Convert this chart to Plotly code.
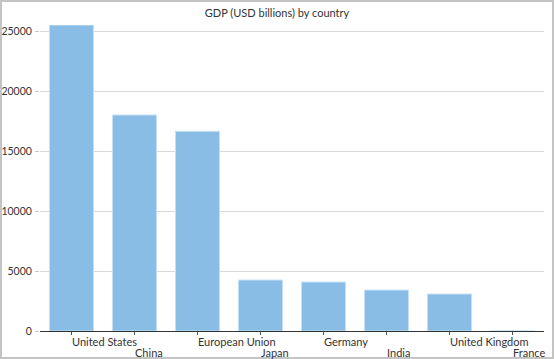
import plotly.graph_objects as go

countries = ["United States", "China", "European Union", "Japan", "Germany", "India", "United Kingdom", "France"]
gdp = [25500, 18000, 16640, 4250, 4080, 3410, 3080, 0]
y_ticks = [0, 5000, 10000, 15000, 20000, 25000]

W, H = 554, 359
ML, MR, MT, MB = 40, 10, 25, 28
PW, PH = W - ML - MR, H - MT - MB

fig = go.Figure()
fig.add_trace(go.Bar(
    x=countries, y=gdp,
    marker=dict(color="#8abde6", line=dict(color="#c5e0f6", width=1)),
    hoverinfo="x+y",
))

font = "Lato, Segoe UI, sans-serif"
annotations = []
for i, c in enumerate(countries):
    annotations.append(dict(
        x=c, y=0, xref="x", yref="paper", text=c, showarrow=False,
        xanchor="left", yanchor="top", yshift=-2 if i % 2 == 0 else -13,
        xshift=-2,
        font=dict(family=font, size=11, color="#333333"),
    ))

fig.update_layout(
    width=W, height=H,
    margin=dict(l=ML, r=MR, t=MT, b=MB, pad=0, autoexpand=False),
    paper_bgcolor="white", plot_bgcolor="white",
    bargap=0.3,
    showlegend=False,
    title=dict(text="GDP (USD billions) by country", x=0.5, xanchor="center",
               y=1 - 13 / H, yanchor="middle",
               font=dict(family=font, size=11, color="#333333")),
    xaxis=dict(type="category", showgrid=False, showticklabels=False,
               ticks="outside", ticklen=3, tickcolor="#555555",
               showline=True, linecolor="#333333", linewidth=1,
               range=[-0.5, len(countries) - 0.5], automargin=False),
    yaxis=dict(range=[0, 25500], tickvals=y_ticks, tickformat="d", showgrid=True,
               gridcolor="#d9d9d9", gridwidth=1, zeroline=False,
               ticks="outside", ticklen=4, tickcolor="#c8c8c8", tickwidth=1,
               ticklabelstandoff=1,
               tickfont=dict(family=font, size=10.5, color="#333333"),
               showline=False, automargin=False),
    annotations=annotations,
    shapes=[dict(type="rect", xref="paper", yref="paper",
                 x0=(1 - ML) / PW, x1=(W - 1 - ML) / PW,
                 y0=-(H - 1 - MT - PH) / PH, y1=1 + (MT - 1) / PH,
                 line=dict(color="#c4c4c4", width=2), layer="above")],
)

fig.write_html("out.html", config={"displayModeBar": False},
               post_script="document.body.style.margin='0';document.body.style.overflow='hidden';")
